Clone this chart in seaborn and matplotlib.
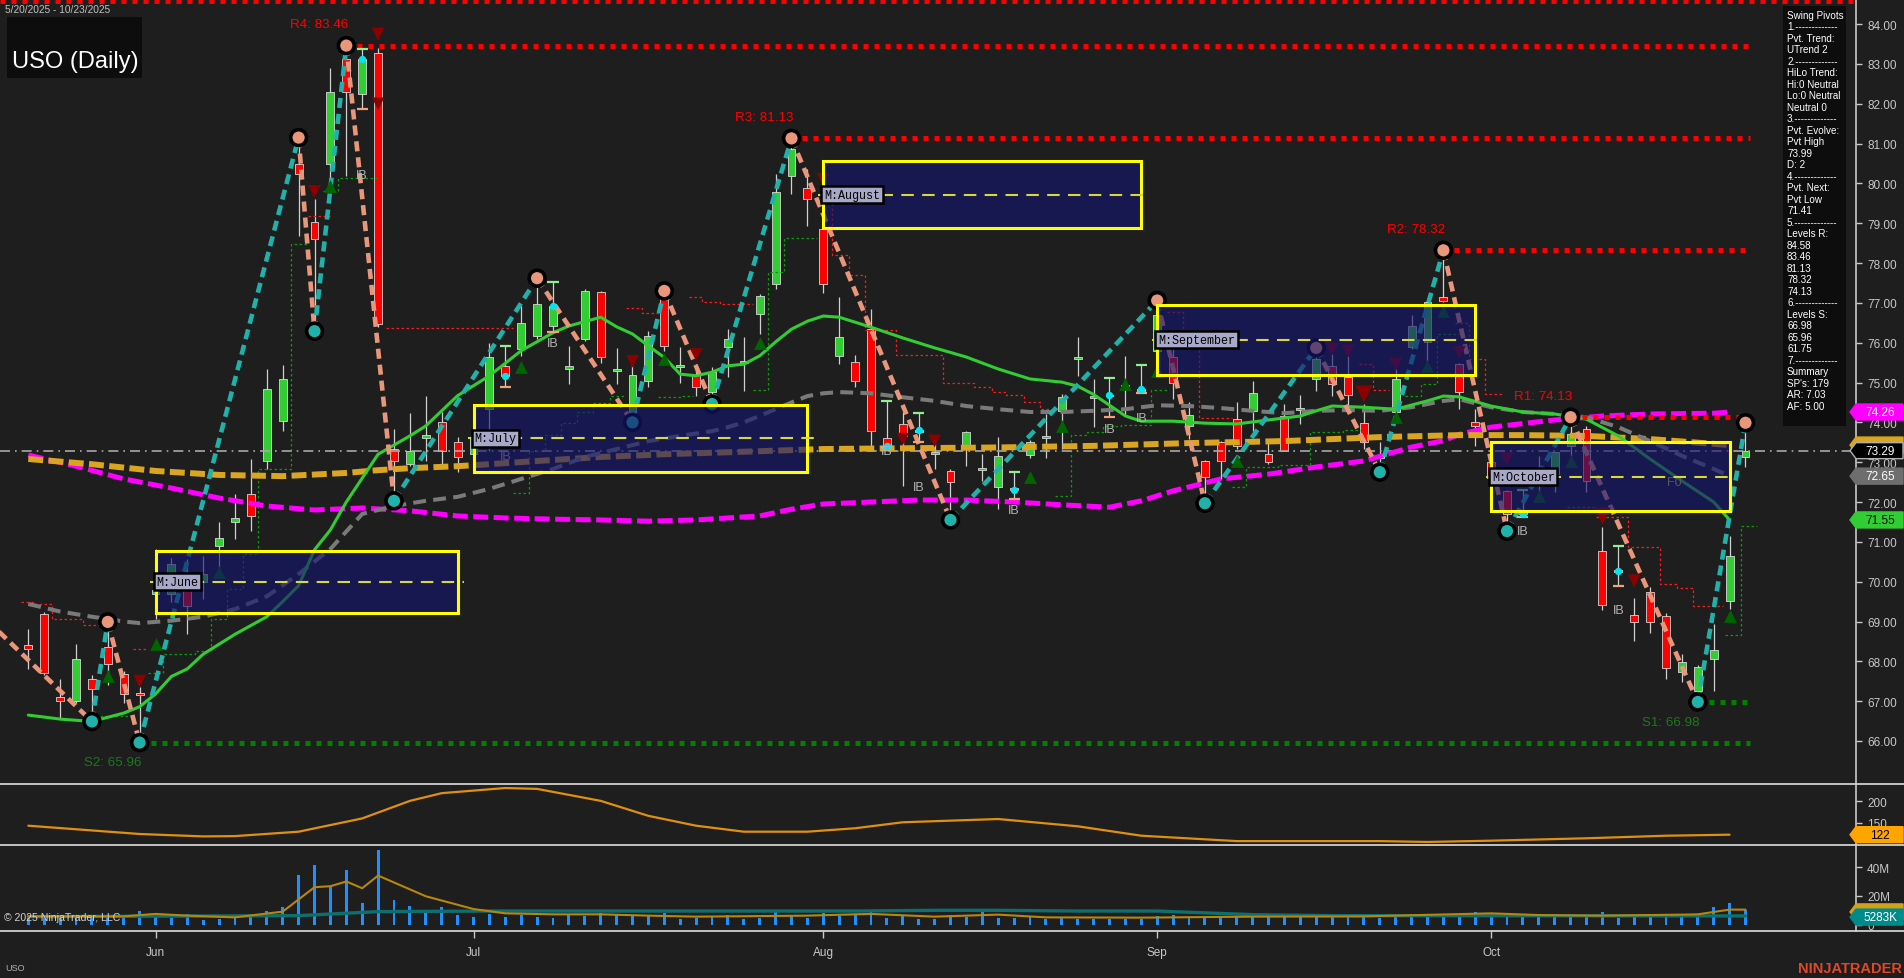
import numpy as np
import pandas as pd
import matplotlib
matplotlib.use("Agg")
import matplotlib.pyplot as plt
import seaborn as sns
from matplotlib.patches import Rectangle, Polygon
from matplotlib.lines import Line2D
from matplotlib.transforms import IdentityTransform

# ---------------- data ----------------
opens = [68.40,69.19,67.10,67.00,67.56,68.37,67.68,67.20,69.70,69.70,
 70.07,70.00,70.90,71.50,72.20,73.03,74.03,80.49,79.04,80.48,
 83.12,82.24,83.27,73.33,72.95,73.62,74.00,73.50,73.20,74.33,
 75.41,75.84,76.17,76.42,75.35,76.10,77.27,75.30,74.26,75.04,
 77.22,75.40,75.20,74.76,75.89,75.50,76.72,77.47,80.19,79.88,
 78.85,75.67,75.51,76.34,73.60,73.96,73.75,73.20,72.78,73.37,
 72.80,72.37,72.35,73.17,73.60,74.28,75.60,74.60,74.65,74.90,
 74.80,75.80,75.64,73.90,73.03,73.50,74.08,74.28,73.20,74.16,
 74.30,75.09,75.41,75.13,73.98,73.10,74.26,75.89,76.02,77.15,
 75.46,74.00,73.00,72.28,71.75,72.60,72.70,73.40,73.83,70.78,
 70.25,69.17,69.74,69.14,67.73,67.26,68.06,69.52,73.13]
highs = [68.81,69.25,67.56,68.44,67.65,68.99,67.75,67.35,70.82,70.60,
 70.57,70.64,71.51,72.20,73.08,75.34,75.44,81.15,79.60,82.90,
 83.46,83.37,83.40,73.83,74.23,74.66,74.26,73.63,73.90,76.00,
 75.91,76.92,77.62,77.52,75.92,77.35,77.30,75.86,75.50,76.30,
 77.30,75.90,75.46,75.40,76.34,76.15,77.22,80.23,81.13,80.36,
 78.90,77.15,75.70,76.84,74.53,74.26,74.23,73.58,72.83,73.78,
 73.20,73.63,72.76,73.55,74.20,74.71,76.15,75.09,75.11,75.66,
 75.44,77.06,76.02,74.50,73.06,73.53,74.50,75.04,73.53,74.46,
 74.68,75.87,75.72,75.66,74.46,73.50,75.34,76.70,77.05,78.32,
 75.50,74.33,73.40,72.30,72.31,73.15,73.25,74.13,73.91,71.37,
 70.90,69.60,69.87,69.22,68.18,67.90,68.93,71.15,73.99]
lows = [67.81,67.65,66.56,66.95,66.49,67.40,66.95,65.96,69.06,69.50,
 68.68,69.56,70.32,71.07,71.27,72.83,73.78,78.67,76.29,80.10,
 80.18,81.87,76.40,72.03,72.90,73.03,72.95,72.76,72.90,73.29,
 74.89,75.67,76.10,76.27,74.96,76.05,75.50,74.96,74.00,74.90,
 75.80,75.00,74.66,74.46,75.13,74.79,76.22,77.35,79.73,78.93,
 77.25,75.47,74.90,73.37,73.38,72.40,73.50,72.83,71.55,72.90,
 72.53,71.83,72.07,73.10,73.10,73.33,75.17,73.88,74.14,74.16,
 74.74,75.50,74.59,73.58,71.97,72.58,73.33,73.78,72.95,73.28,
 73.96,74.79,74.66,74.26,73.33,72.75,74.16,75.84,75.51,77.02,
 74.33,73.40,72.40,71.27,71.62,72.25,72.25,73.10,72.25,69.30,
 69.90,68.50,68.72,67.56,67.47,66.98,67.26,69.32,72.88]
closes = [68.30,67.70,67.00,68.06,67.31,67.93,67.18,67.15,69.80,70.45,
 69.39,70.20,71.10,71.60,71.64,74.84,75.09,80.23,78.60,82.30,
 82.30,83.12,76.47,73.03,73.29,73.68,73.28,73.13,73.60,75.64,
 75.16,76.49,76.97,76.93,75.42,77.30,75.64,75.33,75.20,76.17,
 75.91,75.45,74.90,75.26,76.09,75.55,77.17,79.78,80.86,79.60,
 77.48,76.15,75.04,73.78,73.41,73.66,73.80,73.25,72.50,73.75,
 72.85,73.16,72.31,73.50,73.65,74.63,75.65,74.65,74.69,74.95,
 74.84,76.70,75.00,74.18,72.63,73.03,73.40,74.73,73.00,73.28,
 74.35,75.58,74.96,74.69,73.50,73.15,75.09,76.42,77.02,77.05,
 74.76,73.90,72.60,71.70,71.70,72.70,73.25,73.70,72.53,69.41,
 70.27,68.99,69.00,67.83,67.98,67.86,68.28,70.65,73.29]
volume_m = [6.3,5.8,5.8,6.3,5.8,6.3,6.7,9.6,8.2,4.9,
 7.5,3.5,4.0,4.5,5.6,9.6,12.3,34.6,41.6,26.7,
 38.1,15.1,52.1,17.2,13.0,10.2,12.3,7.0,5.4,7.5,
 5.6,7.0,5.6,4.9,7.5,5.8,8.2,7.0,7.0,5.8,
 8.2,4.0,4.7,
 5.6,6.8,4.0,4.9,9.1,6.3,4.9,8.2,6.3,7.5,
 9.3,4.7,6.8,4.0,4.0,6.8,5.6,8.9,4.9,4.4,
 5.3,4.0,5.6,4.0,4.0,4.0,4.0,4.0,5.8,6.8,
 5.3,5.3,5.3,5.3,6.8,5.3,5.3,5.3,5.3,5.3,
 5.3,6.8,4.4,6.8,5.3,6.3,7.2,7.2,8.6,7.2,
 7.2,7.7,6.3,5.3,6.3,5.3,8.6,4.4,6.3,6.3,
 7.2,6.3,6.3,12.0,15.3,10.2]

month_tick_bars = [8, 28, 50, 71, 92]
month_tick_labels = ["Jun", "Jul", "Aug", "Sep", "Oct"]

ib_bars = [21, 30, 33, 54, 56, 62, 68, 70, 94, 100]
ib_label_prices = [80.21, 73.15, 75.99, 73.28, 72.38, 71.8, 73.83, 74.1, 71.27, 69.29]

# swing pivots (bar, price, kind)
pivot_bars = [-3, 4, 5, 7, 17, 18, 20, 23, 32, 38, 40, 43, 48, 58, 71, 74, 81, 85, 89, 93, 97, 105, 108]
pivot_prices = [69.19, 66.49, 68.99, 65.96, 81.15, 76.29, 83.46, 72.03, 77.62, 74.00, 77.30, 74.46,
                81.13, 71.55, 77.06, 71.97, 75.87, 72.75, 78.32, 71.27, 74.13, 66.98, 73.99]
pivot_kinds = ["H", "L", "H", "L", "H", "L", "H", "L", "H", "L", "H", "L",
               "H", "L", "H", "L", "H", "L", "H", "L", "H", "L", "H"]

# moving averages (bar, value)
fast_ma_bars = [0,2,4,6,7,8,9,10,11,13,15,16,17,18,19,20,21,22,24,25,27,29,31,33,34,36,37,38,39,40,41,42,43,44,45,
                46,47,48,49,50,51,53,55,57,59,61,63,65,66,67,69,70,72,74,76,78,80,81,82,84,86,88,89,90,92,94,96,98,100,102,104,106,107]
fast_ma_vals = [66.65,66.55,66.49,66.70,66.86,67.18,67.62,67.81,68.18,68.68,69.12,69.50,69.90,70.80,71.30,72.00,72.60,73.20,73.66,73.91,74.67,75.17,75.80,76.25,76.42,76.64,76.40,76.22,75.92,75.63,75.21,75.17,75.26,75.42,75.46,
                75.67,76.02,76.34,76.54,76.67,76.64,76.39,76.12,75.87,75.64,75.34,75.09,75.01,74.91,74.70,74.16,74.03,74.03,73.98,73.96,74.06,74.16,74.29,74.41,74.38,74.33,74.54,74.66,74.64,74.41,74.26,74.21,74.08,73.66,73.08,72.53,72.00,71.55]
mid_ma_bars = [0,2,4,6,7,9,11,13,15,17,19,21,22,23,25,27,29,31,33,35,37,39,41,43,44,45,47,48,49,50,51,53,55,57,59,61,63,65,67,
               69,71,73,75,77,79,81,83,85,87,89,90,92,94,96,98,100,102,104,106,107]
mid_ma_vals = [69.44,69.25,69.12,69.00,68.96,69.02,69.12,69.31,69.63,70.19,70.82,71.70,71.80,71.90,72.03,72.13,72.33,72.58,72.83,73.13,73.33,73.53,73.66,73.78,73.88,74.00,74.33,74.50,74.66,74.73,74.76,74.73,74.63,74.54,74.41,74.33,74.26,74.26,74.29,
               74.33,74.43,74.41,74.36,74.29,74.23,74.29,74.31,74.29,74.38,74.54,74.58,74.38,74.26,74.21,74.13,73.88,73.53,73.16,72.83,72.65]
slow_ma_bars = [0,4,8,12,16,20,22,24,27,29,32,36,40,44,50,55,61,67,73,79,85,90,94,98,102,106,107]
slow_ma_vals = [73.08,72.95,72.78,72.68,72.65,72.73,72.80,72.85,72.90,72.95,73.03,73.13,73.20,73.25,73.33,73.35,73.37,73.41,73.48,73.53,73.63,73.68,73.68,73.66,73.58,73.46,73.43]
long_ma_bars = [0,3,6,9,12,15,18,21,24,27,30,33,36,39,42,46,48,50,53,56,59,62,65,68,70,72,75,78,81,84,87,89,90,92,96,99,102,106,107]
long_ma_vals = [73.18,72.90,72.58,72.35,72.10,71.90,71.80,71.85,71.78,71.65,71.60,71.57,71.55,71.52,71.55,71.65,71.82,71.95,72.00,72.05,72.05,72.00,71.93,71.87,72.03,72.28,72.58,72.70,72.88,73.03,73.38,73.54,73.70,73.88,74.06,74.16,74.21,74.23,74.26]

# trailing-stop steps (bar breakpoints, price after each breakpoint)
stop_red_runs = [
    ([-0.48, 0.42, 1.47, 3.46, 4.51], [69.48, 69.44, 69.06, 68.91, 68.91]),
    ([6.6, 7.5], [68.31, 68.31]),
    ([17.6, 19.0], [79.17, 79.17]),
    ([22.5, 30.5], [76.38, 76.38]),
    ([37.6, 38.6, 39.8], [76.86, 76.74, 76.74]),
    ([41.55, 42.4, 43.5, 45.6], [77.16, 77.01, 76.98, 76.98]),
    ([50.05, 50.57, 51.6, 52.6, 54.6, 57.55, 59.5, 60.6, 61.5, 62.6, 63.6, 64.7],
     [79.81, 78.2, 77.71, 76.33, 75.69, 75.0, 74.88, 74.75, 74.69, 74.5, 74.33, 74.33]),
    ([71.6, 72.6, 73.6, 75.7], [76.76, 75.94, 74.1, 74.1]),
    ([83.7, 84.6, 85.6], [75.46, 74.82, 74.82]),
    ([89.7, 90.6, 91.6, 92.7], [76.49, 75.6, 74.71, 74.71]),
    ([98.6, 100.6, 102.6, 103.7, 104.7, 106.6], [71.62, 70.86, 69.94, 69.83, 69.4, 69.4]),
]
stop_green_runs = [
    ([4.51, 6.5], [66.63, 66.63]),
    ([7.53, 8.47, 10.5, 11.5, 12.5, 13.5, 14.46, 16.5, 17.6],
     [67.7, 68.18, 68.27, 69.06, 69.81, 70.7, 72.83, 78.48, 78.48]),
    ([18.55, 19.5, 22.1], [79.8, 80.13, 80.13]),
    ([30.5, 31.5, 32.5, 33.5, 34.5, 35.5, 36.6, 37.6], [72.22, 73.29, 73.68, 73.98, 74.25, 74.48, 74.65, 74.65]),
    ([39.6, 41.1, 41.8], [74.63, 74.67, 74.67]),
    ([45.6, 46.5, 47.5, 49.6], [74.81, 77.77, 78.62, 78.62]),
    ([64.6, 65.6, 66.6, 67.6, 68.7, 70.6, 71.6], [72.16, 73.68, 73.76, 73.9, 73.93, 74.82, 74.82]),
    ([75.7, 76.6, 78.6, 80.6, 81.7, 82.7, 83.8], [72.37, 72.87, 72.93, 73.75, 73.77, 73.81, 73.81]),
    ([86.6, 87.6, 88.6, 90.0], [74.65, 74.96, 76.22, 76.22]),
    ([96.8, 98.6], [71.87, 71.87]),
    ([106.7, 107.7, 108.7], [68.66, 71.4, 71.4]),
]

osc_bars = [0,7,11,13,17,21,24,26,30,32,36,39,42,45,49,52,55,61,66,70,76,85,88,92,98,103,107]
osc_vals = [143,123.6,118,118.7,129,160,201,219,231,229,201,166,143,129,129,137,151,158.6,141.6,119.6,107,107,105,108,113.6,119.6,122]

vol_fast_bars = [0,6,8,10,13,16,18,19,20,21,22,25,28,30,33,36,39,42,49,53,57,61,64,70,77,84,92,95,99,104,105,107,108]
vol_fast_vals = [5.8,5.8,7.5,6.3,5.1,9.1,26.1,26.8,30.1,25.4,34.2,19.8,10.9,7.9,7.2,7.2,6.3,5.6,6.3,7.5,5.6,7.0,5.1,4.9,5.6,5.8,7.9,6.7,6.3,7.0,7.2,10.5,10.5]
vol_slow_bars = [0,17,22,29,42,52,57,61,66,71,77,82,108]
vol_slow_vals = [5.6,6.3,9.1,9.5,9.5,9.5,10.0,10.0,9.5,9.5,7.0,6.3,6.1]

# monthly boxes
box_names = ["M:June", "M:July", "M:August", "M:September", "M:October"]
box_start = [8, 28, 50, 71, 92]
box_end = [27, 49, 70, 91, 107]
box_high = [70.78, 74.43, 80.57, 76.95, 73.50]
box_low = [69.21, 72.76, 78.87, 75.20, 71.78]

# levels
res_names = ["R4", "R3", "R2", "R1"]
res_prices = [83.46, 81.13, 78.32, 74.13]
res_from = [20, 48, 89, 97]
sup_names = ["S2", "S1"]
sup_prices = [65.96, 66.98]
sup_from = [7, 105]
top_level = 84.58
last_price = 73.29

tri_up_bars = [5, 8, 12, 19, 31, 40, 46, 63, 65, 69, 71, 76, 86, 88, 89, 95, 97, 107]
tri_up_prices = [67.63, 68.43, 70.25, 79.93, 75.39, 75.59, 76.0, 72.63, 73.9, 74.97, 75.3, 73.03, 74.13, 75.41, 76.8, 72.15, 73.03, 69.14]
tri_dn_bars = [7, 18, 22, 22, 38, 42, 50, 55, 57, 82, 83, 84, 86, 90, 93, 99, 101]
tri_dn_prices = [67.5, 79.8, 83.75, 82.0, 75.53, 75.7, 80.1, 73.58, 73.53, 75.84, 75.79, 74.71, 75.46, 75.76, 73.08, 71.65, 70.02]
tri_dn_big = [84, 99]

info_lines = ["Swing Pivots", "1.-------------", "Pvt. Trend:", "UTrend 2", "2.-------------",
              "HiLo Trend:", "Hi:0 Neutral", "Lo:0 Neutral", "Neutral 0", "3.-------------",
              "Pvt. Evolve:", "Pvt High", "73.99", "D: 2", "4.-------------", "Pvt. Next:",
              "Pvt Low", "71.41", "5.-------------", "Levels R:", "84.58", "83.46", "81.13",
              "78.32", "74.13", "6.-------------", "Levels S:", "66.98", "65.96", "61.75",
              "7.-------------", "Summary", "SP's: 179", "AR: 7.03", "AF: 5.00"]

# ---------------- style ----------------
BG = "#1e1e1e"
FG = "#c8c8c8"
sns.set_theme(style="dark", rc={"axes.facecolor": BG, "figure.facecolor": BG,
                                "axes.edgecolor": FG, "text.color": FG,
                                "xtick.color": FG, "ytick.color": FG, "axes.grid": False})
plt.rcParams["font.family"] = ["Liberation Sans", "DejaVu Sans"]

W, H = 1904, 979
fig = plt.figure(figsize=(W / 100, H / 100), dpi=100)
fig.patch.set_facecolor(BG)

def rect(top, bottom, right=1856):
    return [0, 1 - bottom / H, right / W, (bottom - top) / H]

ax = fig.add_axes(rect(0, 785))
ax_osc = fig.add_axes(rect(785, 846), sharex=ax)
ax_vol = fig.add_axes(rect(846, 932), sharex=ax)

n = len(closes)
bars = np.arange(n)
o = np.array(opens); h = np.array(highs); l = np.array(lows); c = np.array(closes)

for a in (ax, ax_osc, ax_vol):
    a.set_facecolor(BG)
    for s in ("left", "top", "bottom"):
        a.spines[s].set_visible(False)
    a.spines["right"].set_color(FG)
    a.spines["right"].set_linewidth(1.2)
    a.yaxis.tick_right()
    a.tick_params(axis="y", right=True, left=False, labelright=True, labelleft=False,
                  length=4, width=1, color=FG, labelcolor=FG, labelsize=8.5, pad=4)
    a.tick_params(axis="x", bottom=False, labelbottom=False)

# ---------------- main price panel ----------------
ax.vlines(bars, l, h, color="#d0d0d0", lw=0.9, zorder=2)
body_col = np.where(c >= o, "#32cd32", "#ff0000")
body_bottom = np.minimum(o, c)
body_h = np.maximum(np.abs(c - o), 0.04)
ax.bar(bars, body_h, bottom=body_bottom, width=0.5, color=body_col,
       edgecolor="#d8d8d8", linewidth=0.6, zorder=3)

# trailing stop steps
for xs, ys in stop_red_runs:
    ax.plot(xs, ys, drawstyle="steps-post", color="#ff1a1a", lw=0.9, linestyle=(0, (2, 2)), zorder=3.4)
for xs, ys in stop_green_runs:
    ax.plot(xs, ys, drawstyle="steps-post", color="#0a9a0a", lw=0.9, linestyle=(0, (2, 2)), zorder=3.4)

# moving averages
sns.lineplot(x=long_ma_bars, y=long_ma_vals, ax=ax, color="#ff00ff", lw=3.6, estimator=None, sort=False,
             linestyle=(0, (3.0, 1.1)), dash_capstyle="butt", zorder=4.0)
sns.lineplot(x=slow_ma_bars, y=slow_ma_vals, ax=ax, color="#daa520", lw=4.3, estimator=None, sort=False,
             linestyle=(0, (2.5, 0.9)), dash_capstyle="butt", zorder=4.1)
sns.lineplot(x=mid_ma_bars, y=mid_ma_vals, ax=ax, color="#7a7a7a", lw=2.9, estimator=None, sort=False,
             linestyle=(0, (3.2, 1.8)), dash_capstyle="butt", zorder=4.2)
sns.lineplot(x=fast_ma_bars, y=fast_ma_vals, ax=ax, color="#32cd32", lw=2.2, estimator=None, sort=False,
             zorder=4.3)

# last price line
ax.axhline(last_price, color="#a8a8a8", lw=1.2, linestyle=(0, (6, 3, 1, 3)), zorder=3.5)

# level lines
xr = n - 0.7
ax.axhline(top_level, color="#ff0000", lw=3.6, linestyle=(0, (1, 1.2)), dash_capstyle="butt", zorder=4.5)
for nm, p, f in zip(res_names, res_prices, res_from):
    sns.lineplot(x=[f, xr], y=[p, p], ax=ax, color="#ff0000", lw=3.6, estimator=None,
                 linestyle=(0, (1, 1.2)), dash_capstyle="butt", zorder=4.5)
    ax.annotate(f"{nm}: {p:.2f}", (f + 0.1, p), xytext=(0, 11), textcoords="offset points",
                ha="right", va="bottom", color="#ff0000", fontsize=9.6, zorder=12)
for nm, p, f in zip(sup_names, sup_prices, sup_from):
    sns.lineplot(x=[f, xr], y=[p, p], ax=ax, color="#008000", lw=3.6, estimator=None,
                 linestyle=(0, (1, 1.2)), dash_capstyle="butt", zorder=4.5)
    ax.annotate(f"{nm}: {p:.2f}", (f + 0.1, p), xytext=(0, -10), textcoords="offset points",
                ha="right", va="top", color="#1a7a1a", fontsize=9.6, zorder=12)

# zigzag
for k in range(len(pivot_bars) - 1):
    up = pivot_kinds[k] == "L"
    sns.lineplot(x=[pivot_bars[k], pivot_bars[k + 1]], y=[pivot_prices[k], pivot_prices[k + 1]],
                 ax=ax, color="#20b2aa" if up else "#e9967a", lw=3.3, estimator=None, sort=False,
                 linestyle=(0, (2.2, 1.3)), dash_capstyle="butt", zorder=5)

# triangles
ax.scatter(tri_up_bars, tri_up_prices, marker="^", s=85, color="#006400", linewidths=0, zorder=5.5)
dn_sizes = [150 if b in tri_dn_big else 85 for b in tri_dn_bars]
ax.scatter(tri_dn_bars, tri_dn_prices, marker="v", s=dn_sizes, color="#8b0000", linewidths=0, zorder=5.5)

# inside-bar markers
for b, lp in zip(ib_bars, ib_label_prices):
    ax.hlines(highs[b], b - 0.35, b + 0.35, color="#90ee90", lw=1.6, zorder=5.6)
    ax.hlines(lows[b], b - 0.35, b + 0.35, color="#f4a07a", lw=1.6, zorder=5.6)
    ax.scatter([b], [closes[b]], s=28, color="#00e5ee", zorder=5.7, linewidths=0)
    ax.text(b, lp, "IB", color="#b4b4b4", fontsize=9, ha="center", va="center", zorder=5.7)
ax.text(103.5, 72.5, "F0", color="#c8c832", fontsize=9, ha="center", va="center", zorder=5.7)

# pivot circles
vis = [i for i, b in enumerate(pivot_bars) if b >= 0]
ax.scatter([pivot_bars[i] for i in vis], [pivot_prices[i] for i in vis], s=130,
           c=["#e9967a" if pivot_kinds[i] == "H" else "#20b2aa" for i in vis],
           edgecolors="black", linewidths=2.6, zorder=6)

# monthly boxes
for nm, s0, s1, hi, lo in zip(box_names, box_start, box_end, box_high, box_low):
    ax.add_patch(Rectangle((s0, lo), s1 - s0, hi - lo, facecolor=(22 / 255, 22 / 255, 110 / 255, 0.64),
                           edgecolor="none", zorder=7))
    ax.add_patch(Rectangle((s0, lo), s1 - s0, hi - lo, fill=False, edgecolor="#ffff00", lw=2.2, zorder=8))
    mid = (hi + lo) / 2
    ax.plot([s0 - 0.35, s1 + 0.4], [mid, mid], color="#d8d83a", lw=1.5, linestyle=(0, (6, 4)), zorder=8)
    ax.text(s0 + 0.05, mid, nm, family=["Liberation Mono", "DejaVu Sans Mono"], fontsize=8.5,
            color="black", ha="left", va="center", zorder=10,
            bbox=dict(boxstyle="square,pad=0.22", facecolor="#a8a8c8", edgecolor="black", lw=1.8))

ax.set_xlim(-1.78, 114.95)
ax.set_ylim(64.92, 84.63)
yt = np.arange(66, 85, 1.0)
ax.set_yticks(yt)
ax.set_yticklabels([f"{v:.2f}" for v in yt])

# ---------------- oscillator panel ----------------
sns.lineplot(x=osc_bars, y=osc_vals, ax=ax_osc, color="#e0900f", lw=1.6, estimator=None, sort=False)
ax_osc.set_ylim(97.9, 240.4)
ax_osc.set_yticks([150, 200])
ax_osc.set_yticklabels(["150", "200"])

# ---------------- volume panel ----------------
ax_vol.bar(bars, volume_m, width=0.18, color="#1e90ff", linewidth=0, edgecolor="none", zorder=2)
sns.lineplot(x=vol_slow_bars, y=vol_slow_vals, ax=ax_vol, color="#0f6e6e", lw=2.4, estimator=None, sort=False, zorder=3)
sns.lineplot(x=vol_fast_bars, y=vol_fast_vals, ax=ax_vol, color="#b8860b", lw=1.5, estimator=None, sort=False, zorder=4)
ax_vol.set_ylim(-4.4, 55.5)
ax_vol.set_yticks([0, 20, 40])
ax_vol.set_yticklabels(["0", "20M", "40M"])
ax_vol.set_xticks(month_tick_bars)
ax_vol.set_xticklabels(month_tick_labels)
ax_vol.tick_params(axis="x", bottom=True, labelbottom=True, length=5, width=1, color=FG,
                   labelcolor=FG, labelsize=8.5, pad=6)
ax.set_xlim(-1.78, 114.95)
for a in (ax, ax_osc, ax_vol):
    a.set_xlabel(""); a.set_ylabel("")
ax_vol.text(0.002, 0.16, "\u00a9 2025 NinjaTrader, LLC", transform=ax_vol.transAxes, fontsize=7.6,
            color="#d0d0d0", ha="left", va="center", zorder=10)

# ---------------- figure-level decorations ----------------
ID = IdentityTransform()
for ypix in (785, 846, 932):
    fig.add_artist(Line2D([0, W], [H - ypix, H - ypix], transform=ID, color="#d0d0d0", lw=1.3))

def tag(axis, value, text, face, tcolor, edge=None):
    yd = axis.transData.transform((0, value))[1]
    hh = 8
    poly = Polygon([(1850, yd), (1856, yd + hh), (1903, yd + hh), (1903, yd - hh), (1856, yd - hh)],
                   closed=True, facecolor=face, edgecolor=edge or face, lw=1, transform=ID, zorder=20)
    fig.add_artist(poly)
    if text:
        fig.text(1880, yd, text, transform=ID, ha="center", va="center", color=tcolor, fontsize=8.5, zorder=21)

tag(ax, long_ma_vals[-1], f"{long_ma_vals[-1]:.2f}", "#ff00ff", "white")
tag(ax, slow_ma_vals[-1], "", "#daa520", "black")
tag(ax, closes[-1], f"{closes[-1]:.2f}", "#000000", "white", edge="#b0b0b0")
tag(ax, mid_ma_vals[-1], f"{mid_ma_vals[-1]:.2f}", "#6e6e6e", "white")
tag(ax, fast_ma_vals[-1], f"{fast_ma_vals[-1]:.2f}", "#32cd32", "black")
tag(ax_osc, osc_vals[-1], f"{osc_vals[-1]:.0f}", "#ffa500", "black")
tag(ax_vol, vol_fast_vals[-1] - 1.6, "", "#d4a017", "black")
tag(ax_vol, 5.283, "5283K", "#008b8b", "white")

# title box
fig.add_artist(Rectangle((7, H - 79), 135, 61, transform=ID, facecolor="#0d0d0d", edgecolor="none", zorder=15))
fig.text(12, H - 62, "USO (Daily)", transform=ID, fontsize=17, color="white", ha="left", va="center", zorder=16)
fig.text(5, H - 10, "5/20/2025 - 10/23/2025", transform=ID, fontsize=7.3, color="#c0c0c0",
         ha="left", va="center", zorder=16)

# info box
fig.add_artist(Rectangle((1783, H - 427), 63, 420, transform=ID, facecolor="#0d0d0d", edgecolor="none", zorder=15))
for k, line in enumerate(info_lines):
    fig.text(1787, H - (15.7 + 11.5 * k), line, transform=ID, fontsize=7.1, color="white",
             ha="left", va="center", zorder=16)

fig.text(5, H - 969, "USO", transform=ID, fontsize=6.5, color="#b0b0b0", ha="left", va="center")
fig.text(1902, H - 969, "NINJATRADER", transform=ID, fontsize=10.5, fontweight="bold",
         color="#e0482a", ha="right", va="center")

fig.savefig("out.png", dpi=100, facecolor=BG)
